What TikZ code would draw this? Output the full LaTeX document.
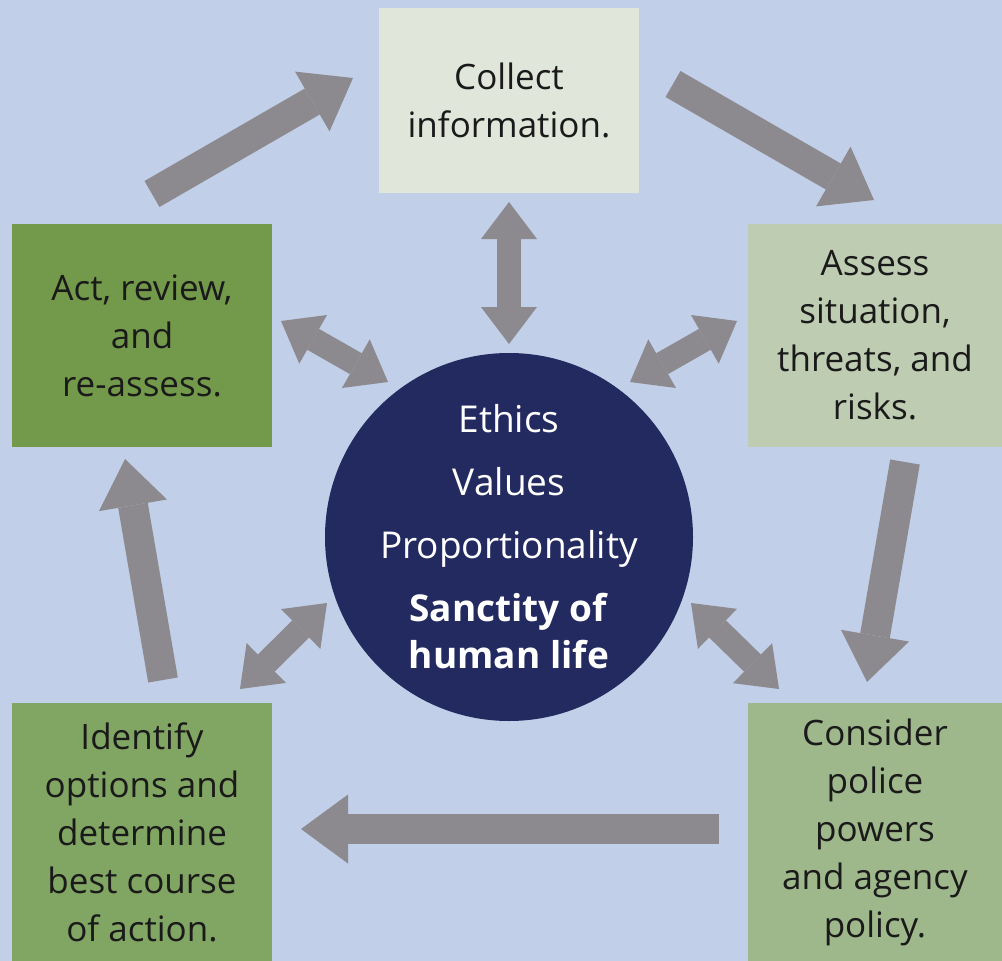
\documentclass[tikz,border=0pt]{standalone}
\usepackage{fontspec}
\setmainfont{Open Sans}
\usetikzlibrary{arrows.meta}
\definecolor{bgc}{HTML}{C1CFE8}
\definecolor{collectc}{HTML}{E0E7DA}
\definecolor{assessc}{HTML}{BECCB2}
\definecolor{actc}{HTML}{739A4A}
\definecolor{identc}{HTML}{81A562}
\definecolor{considc}{HTML}{9EB78B}
\definecolor{navy}{HTML}{232A60}
\definecolor{arr}{HTML}{8C8A8E}
\definecolor{txt}{HTML}{1A1A1A}
\begin{document}
\begin{tikzpicture}[x=1pt,y=-1pt,
  box/.style={rectangle, inner sep=0pt, align=center, text=txt, font=\fontsize{35}{48}\selectfont},
  bigarrow/.style={draw=arr, line width=30pt, -{Triangle[length=47pt,width=69pt,line width=0pt]}},
  duoarrow/.style={draw=arr, line width=24pt, {Triangle[length=37pt,width=56pt,line width=0pt]}-{Triangle[length=37pt,width=56pt,line width=0pt]}}
]
\useasboundingbox (0,0) rectangle (1002,961);
\fill[bgc] (0,0) rectangle (1002,961);

\node[box, fill=collectc, minimum width=260pt, minimum height=185pt] (collect) at (509,100.5) {Collect\\information.};
\node[box, fill=assessc, minimum width=254pt, minimum height=223pt] (assess) at (875,335.5) {Assess\\situation,\\threats, and\\risks.};
\node[box, fill=actc, minimum width=260pt, minimum height=223pt] (act) at (142,335.5) {Act, review,\\and\\re-assess.};
\node[box, fill=identc, minimum width=260pt, minimum height=258pt] (identify) at (142,832) {Identify\\options and\\determine\\best course\\of action.};
\node[box, fill=considc, minimum width=254pt, minimum height=258pt] (consider) at (875,832) {Consider\\police\\powers\\and agency\\policy.};
\node[circle, fill=navy, minimum size=368pt, inner sep=0pt, text=white, align=center, font=\fontsize{37}{47}\selectfont] (core) at (509,537) {Ethics\\[16pt]Values\\[16pt]Proportionality\\[16pt]\textbf{Sanctity of}\\\textbf{human life}};

% cycle arrows
\coordinate (a1s) at (152,194);  \coordinate (a1e) at (353,78);
\coordinate (a2s) at (673,84);   \coordinate (a2e) at (874,200);
\coordinate (a3s) at (905,462);  \coordinate (a3e) at (867,682);
\coordinate (a4s) at (719,829);  \coordinate (a4e) at (301,829);
\coordinate (a5s) at (163,680);  \coordinate (a5e) at (125,459);
\draw[bigarrow] (a1s) -- (a1e);
\draw[bigarrow] (a2s) -- (a2e);
\draw[bigarrow] (a3s) -- (a3e);
\draw[bigarrow] (a4s) -- (a4e);
\draw[bigarrow] (a5s) -- (a5e);

% two-way arrows with the centre
\coordinate (da1) at (509,202); \coordinate (da2) at (509,344);
\coordinate (db1) at (281,321); \coordinate (db2) at (388,382);
\coordinate (dc1) at (737,321); \coordinate (dc2) at (630,382);
\coordinate (dd1) at (240,689); \coordinate (dd2) at (327,603);
\coordinate (de1) at (779,689); \coordinate (de2) at (691,603);
\draw[duoarrow] (da1) -- (da2);
\draw[duoarrow] (db1) -- (db2);
\draw[duoarrow] (dc1) -- (dc2);
\draw[duoarrow] (dd1) -- (dd2);
\draw[duoarrow] (de1) -- (de2);
\end{tikzpicture}
\end{document}
